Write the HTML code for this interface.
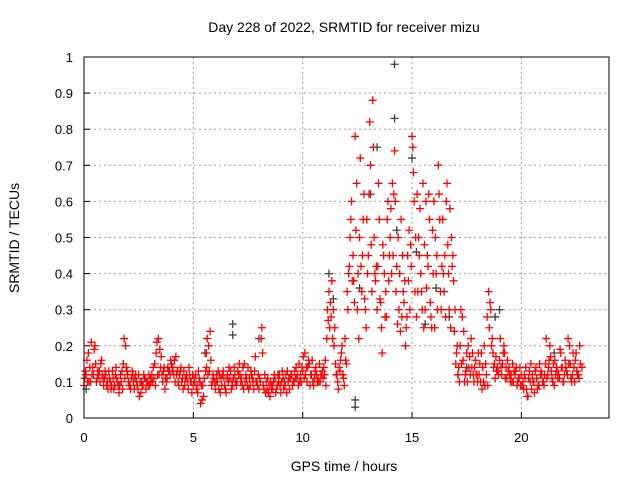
<!DOCTYPE html>
<html><head><meta charset="utf-8"><style>
body{margin:0;background:#fff}
svg{display:block;font-family:"Liberation Sans",sans-serif}
</style></head><body>
<svg id="chart" width="640" height="480" viewBox="0 0 640 480">
<text x="344" y="32" font-size="14" text-anchor="middle">Day 228 of 2022, SRMTID for receiver mizu</text>
<text x="344" y="471" font-size="14" text-anchor="middle">GPS time / hours</text>
<text transform="translate(19,238) rotate(-90)" font-size="14" text-anchor="middle">SRMTID / TECUs</text>
<g id="grid"></g><g id="ticks"></g><g id="pts"></g>
<rect x="84" y="57" width="525" height="361" fill="none" stroke="#000" stroke-width="1"/>
</svg>
<script>
const xTicks=[0,5,10,15,20];
const yTicks=[0,0.1,0.2,0.3,0.4,0.5,0.6,0.7,0.8,0.9,1];
const yTickLabels=["0","0.1","0.2","0.3","0.4","0.5","0.6","0.7","0.8","0.9","1"];
const redA="0.09 0.12 0.18 0.10 0.14 0.20 0.11 0.13 0.16 0.09 0.12 0.08 0.10 0.13 0.09 0.11 0.07 0.10 0.15 0.20 0.12 0.09 0.13 0.08 0.10 0.12 0.07 0.09 0.11 0.10 0.09 0.12 0.11 0.18 0.22 0.14 0.10 0.08 0.11 0.13 0.15 0.12 0.17 0.10 0.13 0.11 0.09 0.12 0.14 0.10 0.09 0.12 0.07 0.10 0.05 0.11 0.14 0.20 0.16 0.12 0.08 0.10 0.12 0.09 0.11 0.07 0.10 0.13 0.09 0.12 0.10 0.15 0.11 0.08 0.12 0.14 0.09 0.11 0.13 0.10 0.08 0.22 0.09 0.07 0.11 0.06 0.09 0.12 0.08 0.10 0.07 0.11 0.09 0.13 0.08 0.12 0.10 0.14 0.09 0.12 0.13 0.18 0.10 0.15 0.12 0.09 0.14 0.11 0.10 0.13 0.12 0.22 0.35 0.28 0.30 0.15 0.10 0.13 0.20 0.09 0.15 0.40 0.55 0.45 0.78 0.30 0.50 0.35 0.62 0.25 0.45 0.70 0.88 0.40 0.30 0.55 0.25 0.45 0.35 0.60 0.50 0.65 0.74 0.42 0.30 0.55 0.35 0.20 0.45 0.30 0.78 0.60 0.28 0.50 0.40 0.65 0.30 0.45 0.55 0.25 0.60 0.40 0.70 0.35 0.55 0.45 0.65 0.30 0.50 0.38 0.15 0.12 0.20 0.28 0.10 0.18 0.14 0.22 0.12 0.16 0.10 0.15 0.08 0.20 0.12 0.35 0.30 0.18 0.11 0.14 0.16 0.12 0.20 0.14 0.13 0.10 0.15 0.12 0.09 0.11 0.12 0.08 0.14 0.06 0.10 0.12 0.07 0.11 0.09 0.13 0.10 0.15 0.12 0.20 0.11 0.09 0.14 0.12 0.18 0.10 0.16 0.12 0.20 0.10 0.14 0.18 0.12 0.15".split(" ").map(Number);
const redB="0.11 0.16 0.10 0.21 0.12 0.15 0.13 0.10 0.12 0.11 0.09 0.13 0.08 0.11 0.12 0.10 0.09 0.13 0.22 0.14 0.10 0.08 0.12 0.11 0.09 0.06 0.10 0.12 0.08 0.09 0.11 0.10 0.15 0.21 0.12 0.17 0.13 0.11 0.14 0.12 0.13 0.16 0.12 0.09 0.14 0.08 0.11 0.10 0.12 0.07 0.11 0.08 0.13 0.04 0.09 0.18 0.22 0.13 0.09 0.11 0.10 0.13 0.07 0.12 0.09 0.11 0.14 0.08 0.11 0.10 0.13 0.12 0.09 0.15 0.11 0.08 0.13 0.10 0.17 0.09 0.11 0.25 0.08 0.10 0.07 0.10 0.08 0.11 0.09 0.12 0.10 0.08 0.12 0.10 0.11 0.09 0.13 0.11 0.15 0.10 0.17 0.12 0.14 0.09 0.16 0.11 0.12 0.10 0.12 0.11 0.16 0.30 0.25 0.38 0.20 0.12 0.08 0.16 0.12 0.22 0.35 0.42 0.60 0.38 0.52 0.40 0.72 0.45 0.33 0.55 0.62 0.48 0.75 0.38 0.42 0.33 0.18 0.40 0.28 0.38 0.58 0.45 0.60 0.26 0.40 0.28 0.32 0.25 0.38 0.48 0.75 0.35 0.62 0.45 0.35 0.25 0.60 0.42 0.32 0.52 0.25 0.45 0.62 0.30 0.40 0.28 0.48 0.58 0.42 0.24 0.18 0.14 0.30 0.16 0.12 0.10 0.17 0.14 0.10 0.12 0.18 0.10 0.14 0.09 0.28 0.25 0.20 0.14 0.17 0.13 0.22 0.15 0.18 0.11 0.14 0.12 0.10 0.13 0.10 0.14 0.09 0.12 0.08 0.11 0.15 0.10 0.13 0.08 0.15 0.12 0.09 0.22 0.14 0.17 0.10 0.16 0.13 0.11 0.14 0.10 0.14 0.22 0.15 0.12 0.10 0.13 0.11".split(" ").map(Number);
const redC="0.13 0.10 0.14 0.12 0.19 0.10 0.12 0.15 0.11 0.13 0.10 0.11 0.09 0.08 0.14 0.09 0.12 0.08 0.11 0.13 0.09 0.11 0.10 0.12 0.08 0.10 0.09 0.11 0.10 0.12 0.10 0.14 0.09 0.12 0.19 0.12 0.14 0.10 0.13 0.16 0.14 0.10 0.13 0.12 0.10 0.13 0.11 0.08 0.10 0.12 0.10 0.09 0.11 0.09 0.06 0.13 0.12 0.24 0.10 0.10 0.12 0.08 0.11 0.13 0.08 0.12 0.11 0.10 0.14 0.09 0.12 0.10 0.14 0.10 0.09 0.11 0.12 0.08 0.10 0.12 0.10 0.18 0.12 0.08 0.09 0.08 0.10 0.07 0.12 0.09 0.13 0.10 0.07 0.11 0.12 0.10 0.11 0.12 0.10 0.14 0.11 0.14 0.16 0.12 0.10 0.13 0.10 0.15 0.12 0.14 0.09 0.27 0.32 0.22 0.25 0.12 0.14 0.18 0.11 0.16 0.30 0.50 0.38 0.32 0.65 0.22 0.42 0.55 0.30 0.40 0.82 0.35 0.50 0.42 0.65 0.32 0.48 0.28 0.55 0.45 0.40 0.62 0.35 0.50 0.24 0.45 0.38 0.28 0.52 0.42 0.68 0.50 0.35 0.58 0.30 0.48 0.36 0.62 0.28 0.40 0.50 0.30 0.55 0.42 0.35 0.60 0.40 0.25 0.45 0.30 0.20 0.10 0.15 0.24 0.13 0.20 0.12 0.18 0.14 0.12 0.12 0.18 0.10 0.15 0.09 0.32 0.22 0.15 0.13 0.12 0.14 0.18 0.11 0.16 0.12 0.10 0.13 0.14 0.11 0.09 0.10 0.11 0.06 0.13 0.08 0.10 0.14 0.09 0.12 0.10 0.12 0.11 0.16 0.13 0.15 0.12 0.11 0.19 0.14 0.12 0.13 0.15 0.11 0.18 0.16 0.12 0.20 0.14".split(" ").map(Number);
const grayT=[0.1,5.6,6.8,6.8,8.0,11.2,11.4,12.4,12.4,12.6,13.1,13.4,14.2,14.2,14.3,15.0,15.2,15.6,16.1,16.7,17.1,17.5,18.8,19.0,21.5];
const grayV=[0.08,0.18,0.26,0.23,0.22,0.40,0.33,0.03,0.05,0.36,0.62,0.75,0.98,0.83,0.52,0.72,0.46,0.26,0.36,0.28,0.12,0.14,0.28,0.30,0.18];
const X=t=>84+t*21.87, Y=v=>418-v*361;
const NS="http://www.w3.org/2000/svg";
const grid=document.getElementById('grid'),tk=document.getElementById('ticks'),pts=document.getElementById('pts');
function mk(p,tag,a){const e=document.createElementNS(NS,tag);for(const k in a)e.setAttribute(k,a[k]);p.appendChild(e);return e;}
xTicks.forEach(t=>{
 const g=mk(grid,'line',{x1:X(t),x2:X(t),y1:57,y2:418,stroke:'#a0a0a0','stroke-dasharray':'2,3'});
 
 const l=mk(tk,'text',{x:X(t),y:442,'font-size':13,'text-anchor':'middle'});l.textContent=t;
 
 mk(tk,'line',{x1:X(t),x2:X(t),y1:418,y2:412,stroke:'#000'});
});
yTicks.forEach((v,i)=>{
 const g=mk(grid,'line',{x1:84,x2:609,y1:Y(v),y2:Y(v),stroke:'#a0a0a0','stroke-dasharray':'2,3'});
 
 const l=mk(tk,'text',{x:73,y:Y(v)+5,'font-size':13,'text-anchor':'end'});l.textContent=yTickLabels[i];
 
 mk(tk,'line',{x1:84,x2:90,y1:Y(v),y2:Y(v),stroke:'#000'});
});
function plus(t,v,c){
 const p=mk(pts,'path',{d:`M${X(t)-4},${Y(v)}h8M${X(t)},${Y(v)-4}v8`,stroke:c,'stroke-width':1.3});
 
 
}
grayT.forEach((t,i)=>plus(t,grayV[i],'#404040'));
redA.forEach((v,i)=>plus(i*0.1,v,'#ff0000'));
redB.forEach((v,i)=>plus(i*0.1+0.033,v,'#ff0000'));
redC.forEach((v,i)=>plus(i*0.1+0.066,v,'#ff0000'));
</script>
</body></html>
